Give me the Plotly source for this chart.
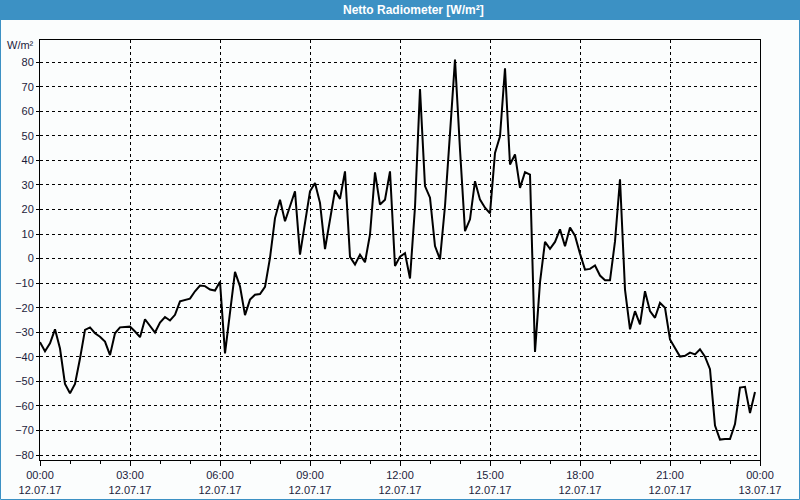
import pandas as pd
import plotly.graph_objects as go

# Net radiation, 10-minute values, 12.07.17 00:00 .. 23:50 (W/m²)
values = [
    -34, -37.7, -34.5, -28.8, -36.6, -51, -54.8, -51, -40.7, -29, -28, -30.4,
    -31.8, -33.8, -39.3, -30.4, -28, -28, -27.7, -29.7, -32, -24.7, -27.4, -30.1,
    -26, -23.8, -25.2, -22.9, -17.4, -17, -16.3, -13.3, -11, -11.2, -12.6, -13,
    -9.4, -38.6, -22, -5.4, -11.3, -23, -16.7, -14.7, -14.4, -11.5, 0.3, 16.5,
    24, 15.2, 21.3, 27.4, 1.6, 15.2, 27.4, 30.8, 22.7, 3.9, 15.9, 27.8,
    24.3, 35.5, 0.7, -2.4, 1.6, -1.5, 9.8, 35.1, 22, 24, 35.5, -3,
    0.8, 2.2, -8.1, 21, 69, 29.5, 24.8, 5.1, -0.3, 21.4, 51, 81,
    44.4, 11.2, 16, 31.5, 24, 20.7, 18.4, 43, 49.8, 77.5, 38.3, 42.4,
    28.8, 35.2, 34.2, -38, -9.7, 6.8, 4, 6.8, 11.9, 5, 12.7, 9.3,
    2, -4.5, -4.2, -2.8, -6.9, -8.8, -8.8, 7, 32.3, -12.6, -28.8, -21.4,
    -26.8, -13.3, -21.4, -24.1, -18, -20, -32.9, -36.3, -39.9, -39.6, -38.3, -39,
    -36.9, -39.9, -45, -68, -73.7, -73.5, -73.5, -67.4, -52.5, -52.2, -62.9, -54.3,
]
start_time = "2017-07-12 00:00"
end_time = "2017-07-13 00:00"
times = pd.date_range(start_time, periods=len(values), freq="10min")

tick_times = pd.date_range(start_time, end_time, freq="3h")
tick_text = [f"{t:%H:%M}<br>{t:%d.%m.%y}" for t in tick_times]
y_ticks = list(range(-80, 81, 10))

title_text = "Netto Radiometer [W/m²]"
unit_text = "W/m²"

BLUE = "#3c91c4"
BG = "#fbfdfd"
TXT = "#1c1c3c"
FONT = "Liberation Sans"

fig = go.Figure()
fig.add_trace(go.Scatter(x=times, y=values, mode="lines",
                         line=dict(color="black", width=2), hoverinfo="skip"))

W, H = 800, 500
L, R, T, B = 40, 40, 40, 40
pw, ph = W - L - R, H - T - B

def px(xp):
    return (xp - L) / pw

def py(yp):
    return (H - B - yp) / ph

fig.update_layout(
    width=W, height=H,
    margin=dict(l=L, r=R, t=T, b=B, pad=0, autoexpand=False),
    paper_bgcolor=BG, plot_bgcolor=BG,
    showlegend=False,
    font=dict(family=FONT, size=11, color=TXT),
    xaxis=dict(
        type="date",
        automargin=False,
        range=[start_time, end_time],
        tickvals=tick_times, ticktext=tick_text,
        ticks="outside", ticklen=5, tickcolor="black",
        showline=True, linecolor="black", linewidth=1, mirror=True,
        showgrid=True, gridcolor="black", gridwidth=1, griddash="3px,3px",
        zeroline=False,
        minor=dict(dtick=3600000, ticks="outside", ticklen=3, tickcolor="black", showgrid=False),
        tickfont=dict(family=FONT, size=11, color=TXT),
    ),
    yaxis=dict(
        automargin=False,
        range=[-82, 89],
        tickvals=y_ticks,
        ticks="outside", ticklen=3, tickcolor="black",
        showline=True, linecolor="black", linewidth=1, mirror=True,
        showgrid=True, gridcolor="black", gridwidth=1, griddash="3px,3px",
        zeroline=False,
        tickfont=dict(family=FONT, size=11, color=TXT),
    ),
    shapes=[
        dict(type="rect", xref="paper", yref="paper",
             x0=px(0), x1=px(W), y0=py(20), y1=py(0),
             fillcolor=BLUE, line=dict(width=0), layer="below"),
        dict(type="rect", xref="paper", yref="paper",
             x0=px(0.5), x1=px(W - 0.5), y0=py(H - 0.5), y1=py(0.5),
             fillcolor="rgba(0,0,0,0)", line=dict(color=BLUE, width=1)),
    ],
    annotations=[
        dict(text=f"<b>{title_text}</b>", xref="paper", yref="paper",
             x=px(413), y=py(10), xanchor="center", yanchor="middle",
             showarrow=False, font=dict(family=FONT, size=12, color="white")),
        dict(text=unit_text, xref="paper", yref="paper",
             x=px(36), y=py(45), xanchor="right", yanchor="middle",
             showarrow=False, font=dict(family=FONT, size=11, color=TXT)),
    ],
)

fig.write_html("out.html")
